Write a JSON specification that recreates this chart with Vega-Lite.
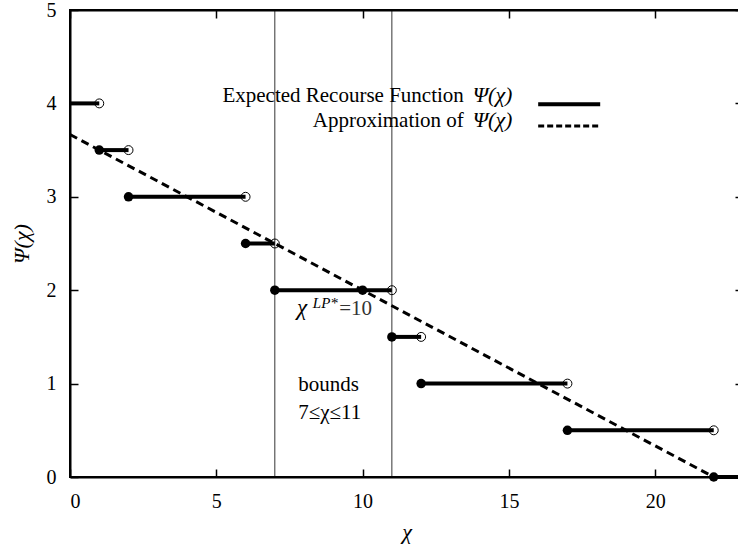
{
  "$schema": "https://vega.github.io/schema/vega-lite/v6.json",
  "width": 673,
  "height": 467,
  "autosize": "none",
  "padding": {"left": 70, "top": 10, "right": 0, "bottom": 73},
  "config": {
    "font": "Liberation Serif",
    "view": {"stroke": "black", "strokeWidth": 2}
  },
  "datasets": {
    "steps": [
      {"x0": 0, "x1": 1, "y": 4},
      {"x0": 1, "x1": 2, "y": 3.5},
      {"x0": 2, "x1": 6, "y": 3},
      {"x0": 6, "x1": 7, "y": 2.5},
      {"x0": 7, "x1": 11, "y": 2},
      {"x0": 11, "x1": 12, "y": 1.5},
      {"x0": 12, "x1": 17, "y": 1},
      {"x0": 17, "x1": 22, "y": 0.5},
      {"x0": 22, "x1": 23, "y": 0}
    ],
    "closed": [
      {"x": 1, "y": 3.5}, {"x": 2, "y": 3}, {"x": 6, "y": 2.5}, {"x": 7, "y": 2},
      {"x": 10, "y": 2}, {"x": 11, "y": 1.5}, {"x": 12, "y": 1}, {"x": 17, "y": 0.5}, {"x": 22, "y": 0}
    ],
    "open": [
      {"x": 1, "y": 4}, {"x": 2, "y": 3.5}, {"x": 6, "y": 3}, {"x": 7, "y": 2.5},
      {"x": 11, "y": 2}, {"x": 12, "y": 1.5}, {"x": 17, "y": 1}, {"x": 22, "y": 0.5}
    ],
    "approx": [{"x": 0, "y": 3.6667}, {"x": 22, "y": 0}],
    "bounds": [{"x": 7}, {"x": 11}],
    "legendText": [
      {"x": 13.46, "y": 4.015, "t": "Expected Recourse Function"},
      {"x": 13.46, "y": 3.747, "t": "Approximation of"}
    ],
    "legendPsi": [
      {"x": 13.76, "y": 4.015, "t": "Ψ(χ)"},
      {"x": 13.76, "y": 3.747, "t": "Ψ(χ)"}
    ],
    "legendLines": [
      {"x0": 16.0, "x1": 18.12, "y": 3.99, "s": "Expected"},
      {"x0": 16.0, "x1": 18.12, "y": 3.758, "s": "Approx"}
    ]
  },
  "layer": [
    {
      "data": {"name": "bounds"},
      "mark": {"type": "rule", "color": "black", "strokeWidth": 0.8},
      "encoding": {
        "x": {"field": "x", "type": "quantitative", "scale": {"domain": [0, 23], "nice": false},
              "axis": {"orient": "bottom", "values": [0, 5, 10, 15, 20], "title": "χ", "grid": false,
                       "domainColor": "black", "domainWidth": 2, "tickColor": "black", "tickWidth": 1.5, "tickSize": -8,
                       "labelFont": "Liberation Serif", "labelFontSize": 20, "labelColor": "black", "labelPadding": 22,
                       "titleFont": "Liberation Serif", "titleFontSize": 22, "titleFontStyle": "italic", "titleFontWeight": "normal",
                       "titleColor": "black", "titlePadding": 10}},
        "y": {"datum": 0, "type": "quantitative", "scale": {"domain": [0, 5], "nice": false},
              "axis": {"orient": "left", "values": [0, 1, 2, 3, 4, 5], "title": "Ψ(χ)", "grid": false,
                       "domainColor": "black", "domainWidth": 2, "tickColor": "black", "tickWidth": 1.5, "tickSize": -8,
                       "labelFont": "Liberation Serif", "labelFontSize": 20, "labelColor": "black", "labelPadding": 22,
                       "titleFont": "Liberation Serif", "titleFontSize": 22, "titleFontStyle": "italic", "titleFontWeight": "normal",
                       "titleColor": "black", "titlePadding": 13}},
        "y2": {"datum": 5}
      }
    },
    {
      "data": {"name": "steps"},
      "mark": {"type": "rule", "color": "black", "strokeWidth": 4},
      "encoding": {
        "x": {"field": "x0", "type": "quantitative",
              "axis": {"orient": "top", "values": [0, 5, 10, 15, 20], "labels": false, "title": null, "grid": false,
                       "domainColor": "black", "domainWidth": 2, "tickColor": "black", "tickWidth": 1.5, "tickSize": -8}},
        "x2": {"field": "x1"},
        "y": {"field": "y", "type": "quantitative",
              "axis": {"orient": "right", "values": [0, 1, 2, 3, 4, 5], "labels": false, "title": null, "grid": false,
                       "domainColor": "black", "domainWidth": 2, "tickColor": "black", "tickWidth": 1.5, "tickSize": -8}}
      }
    },
    {
      "data": {"name": "approx"},
      "mark": {"type": "line", "color": "black", "strokeWidth": 3, "strokeDash": [8, 5]},
      "encoding": {
        "x": {"field": "x", "type": "quantitative", "axis": null},
        "y": {"field": "y", "type": "quantitative", "axis": null}
      }
    },
    {
      "data": {"name": "closed"},
      "mark": {"type": "point", "shape": "circle", "filled": true, "color": "black", "size": 90, "opacity": 1},
      "encoding": {
        "x": {"field": "x", "type": "quantitative", "axis": null},
        "y": {"field": "y", "type": "quantitative", "axis": null}
      }
    },
    {
      "data": {"name": "open"},
      "mark": {"type": "point", "shape": "circle", "filled": false, "color": "black", "strokeWidth": 1, "size": 80, "opacity": 1},
      "encoding": {
        "x": {"field": "x", "type": "quantitative", "axis": null},
        "y": {"field": "y", "type": "quantitative", "axis": null}
      }
    },
    {
      "data": {"name": "legendText"},
      "mark": {"type": "text", "align": "right", "baseline": "alphabetic", "fontSize": 21, "font": "Liberation Serif", "color": "black"},
      "encoding": {
        "x": {"field": "x", "type": "quantitative", "axis": null},
        "y": {"field": "y", "type": "quantitative", "axis": null},
        "text": {"field": "t"}
      }
    },
    {
      "data": {"name": "legendPsi"},
      "mark": {"type": "text", "align": "left", "baseline": "alphabetic", "fontSize": 22, "fontStyle": "italic", "font": "Liberation Serif", "color": "black"},
      "encoding": {
        "x": {"field": "x", "type": "quantitative", "axis": null},
        "y": {"field": "y", "type": "quantitative", "axis": null},
        "text": {"field": "t"}
      }
    },
    {
      "data": {"name": "legendLines"},
      "mark": {"type": "rule", "color": "black"},
      "encoding": {
        "x": {"field": "x0", "type": "quantitative", "axis": null},
        "x2": {"field": "x1"},
        "y": {"field": "y", "type": "quantitative", "axis": null},
        "strokeWidth": {"field": "s", "type": "nominal", "scale": {"domain": ["Expected", "Approx"], "range": [4, 3]}, "legend": null},
        "strokeDash": {"field": "s", "type": "nominal", "scale": {"domain": ["Expected", "Approx"], "range": [[1, 0], [6, 3]]}, "legend": null}
      }
    },
    {
      "data": {"values": [{"x": 7.76, "y": 1.735, "t": "χ"}]},
      "mark": {"type": "text", "align": "left", "baseline": "alphabetic", "font": "Liberation Serif", "fontSize": 23, "fontStyle": "italic", "color": "black"},
      "encoding": {
        "x": {"field": "x", "type": "quantitative", "axis": null},
        "y": {"field": "y", "type": "quantitative", "axis": null},
        "text": {"field": "t"}
      }
    },
    {
      "data": {"values": [{"x": 8.3, "y": 1.81, "t": "LP*"}]},
      "mark": {"type": "text", "align": "left", "baseline": "alphabetic", "font": "Liberation Serif", "fontSize": 15, "fontStyle": "italic", "color": "black"},
      "encoding": {
        "x": {"field": "x", "type": "quantitative", "axis": null},
        "y": {"field": "y", "type": "quantitative", "axis": null},
        "text": {"field": "t"}
      }
    },
    {
      "data": {"values": [{"x": 9.2, "y": 1.735, "t": "=10"}]},
      "mark": {"type": "text", "align": "left", "baseline": "alphabetic", "font": "Liberation Serif", "fontSize": 21, "color": "#333333"},
      "encoding": {
        "x": {"field": "x", "type": "quantitative", "axis": null},
        "y": {"field": "y", "type": "quantitative", "axis": null},
        "text": {"field": "t"}
      }
    },
    {
      "data": {"values": [
        {"x": 7.8, "y": 0.92, "t": "bounds"},
        {"x": 7.8, "y": 0.62, "t": "7≤χ≤11"}
      ]},
      "mark": {"type": "text", "align": "left", "baseline": "alphabetic", "font": "Liberation Serif", "fontSize": 21, "color": "black"},
      "encoding": {
        "x": {"field": "x", "type": "quantitative", "axis": null},
        "y": {"field": "y", "type": "quantitative", "axis": null},
        "text": {"field": "t"}
      }
    }
  ],
  "resolve": {"axis": {"x": "independent", "y": "independent"}}
}
